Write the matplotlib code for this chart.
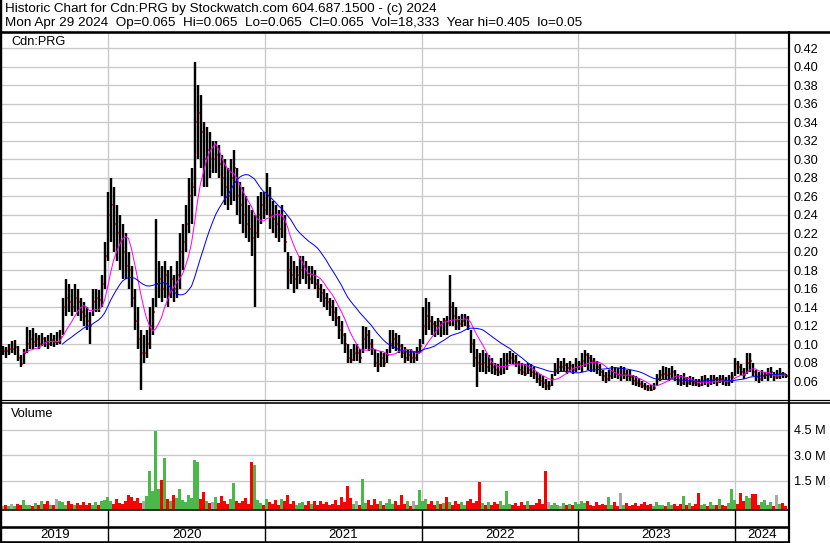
import numpy as np
import pandas as pd
import matplotlib
matplotlib.use('Agg')
import matplotlib.pyplot as plt
import matplotlib.dates as mdates
from matplotlib.lines import Line2D

# ---------------- data (weekly) ----------------
dates = pd.date_range('2019-04-29', periods=262, freq='7D')

low = [
.088,.085,.088,.090,.088,.082,.075,.078,.090,.095,
.095,.097,.095,.098,.097,.095,.098,.097,.099,.100,
.110,.130,.135,.130,.135,.130,.125,.120,.115,.100,
.130,.135,.135,.140,.160,.190,.210,.200,.190,.180,
.170,.170,.160,.140,.115,.095,.050,.080,.085,.095,
.110,.140,.150,.145,.150,.140,.150,.145,.150,.160,
.180,.200,.220,.230,.260,.300,.290,.270,.270,.280,
.285,.285,.280,.260,.250,.245,.250,.255,.240,.230,
.220,.215,.210,.195,.140,.215,.230,.235,.240,.225,
.220,.215,.210,.215,.200,.160,.165,.155,.160,.165,
.170,.165,.160,.165,.160,.150,.145,.140,.137,.130,
.125,.120,.105,.100,.090,.080,.080,.082,.082,.080,
.090,.095,.092,.088,.075,.070,.075,.075,.080,.090,
.095,.092,.090,.085,.080,.082,.080,.080,.082,.090,
.100,.110,.115,.110,.108,.110,.108,.110,.110,.120,
.120,.115,.115,.118,.120,.115,.090,.075,.054,.070,
.070,.068,.070,.068,.066,.065,.066,.068,.072,.078,
.078,.075,.068,.066,.065,.068,.064,.062,.058,.055,
.052,.050,.050,.055,.065,.068,.070,.070,.068,.070,
.068,.070,.072,.070,.075,.072,.070,.070,.068,.065,
.060,.058,.060,.062,.063,.062,.060,.062,.060,.060,
.056,.055,.054,.052,.050,.049,.049,.050,.055,.060,
.062,.062,.060,.062,.060,.056,.055,.056,.054,.056,
.055,.055,.053,.055,.056,.054,.056,.057,.055,.058,
.056,.055,.055,.058,.065,.068,.066,.062,.068,.070,
.065,.060,.058,.060,.062,.060,.063,.060,.062,.062,.063,.063]

high = [
.098,.097,.100,.103,.104,.098,.088,.095,.118,.115,
.117,.112,.110,.112,.108,.110,.112,.110,.113,.115,
.150,.170,.165,.160,.165,.160,.150,.145,.140,.135,
.160,.160,.158,.175,.210,.265,.280,.270,.250,.240,
.230,.220,.200,.185,.160,.140,.115,.110,.115,.140,
.150,.235,.190,.185,.190,.180,.185,.175,.190,.220,
.230,.250,.280,.290,.405,.380,.370,.340,.335,.330,
.320,.320,.315,.305,.300,.290,.300,.310,.290,.275,
.270,.260,.250,.245,.240,.260,.265,.265,.285,.270,
.255,.250,.245,.250,.240,.200,.195,.190,.185,.195,
.195,.190,.185,.185,.180,.170,.165,.160,.155,.150,
.148,.140,.130,.125,.112,.100,.095,.100,.100,.095,
.120,.118,.115,.105,.095,.090,.092,.090,.095,.115,
.115,.112,.110,.100,.097,.095,.095,.092,.097,.105,
.140,.150,.145,.130,.125,.128,.125,.128,.130,.175,
.145,.140,.130,.132,.133,.130,.115,.105,.095,.090,
.094,.090,.088,.085,.080,.078,.085,.090,.090,.092,
.090,.088,.082,.080,.078,.080,.078,.075,.070,.068,
.065,.062,.060,.068,.080,.085,.082,.085,.080,.082,
.078,.085,.082,.090,.094,.090,.088,.085,.082,.078,
.072,.070,.072,.076,.075,.074,.076,.075,.072,.072,
.066,.065,.063,.060,.058,.056,.056,.058,.068,.072,
.076,.075,.074,.076,.072,.068,.066,.069,.064,.065,
.064,.062,.062,.065,.066,.063,.066,.067,.064,.066,
.066,.064,.067,.070,.085,.082,.078,.074,.090,.090,
.080,.072,.070,.072,.070,.074,.075,.070,.072,.074,.070,.068]

close = [
.093,.092,.095,.095,.097,.085,.078,.090,.100,.105,
.102,.105,.100,.105,.102,.100,.104,.102,.102,.108,
.140,.150,.145,.140,.150,.145,.135,.130,.125,.120,
.145,.150,.148,.165,.195,.240,.250,.230,.220,.210,
.200,.185,.180,.150,.125,.105,.090,.090,.100,.120,
.135,.165,.170,.160,.175,.155,.170,.160,.175,.200,
.210,.230,.260,.270,.340,.350,.330,.300,.310,.300,
.300,.305,.295,.280,.270,.260,.280,.290,.260,.250,
.240,.230,.225,.215,.220,.240,.250,.245,.260,.240,
.235,.230,.225,.235,.210,.180,.175,.170,.175,.180,
.185,.175,.170,.175,.165,.160,.155,.150,.145,.140,
.135,.128,.115,.110,.100,.085,.083,.090,.090,.085,
.105,.110,.100,.095,.080,.078,.085,.080,.088,.100,
.105,.100,.098,.090,.085,.088,.085,.085,.090,.098,
.120,.130,.125,.122,.120,.125,.122,.125,.123,.140,
.130,.125,.122,.125,.128,.120,.100,.085,.080,.078,
.080,.075,.078,.075,.072,.070,.075,.080,.082,.085,
.082,.080,.072,.070,.068,.072,.070,.068,.062,.060,
.058,.055,.055,.062,.072,.075,.075,.077,.074,.076,
.072,.075,.078,.082,.088,.085,.082,.080,.075,.070,
.065,.062,.065,.070,.068,.066,.066,.068,.065,.064,
.060,.058,.057,.055,.053,.052,.050,.052,.062,.066,
.068,.066,.068,.070,.064,.060,.058,.062,.058,.060,
.058,.057,.056,.060,.061,.058,.060,.062,.059,.062,
.060,.058,.060,.064,.078,.075,.070,.066,.080,.082,
.070,.064,.062,.065,.066,.068,.070,.064,.064,.068,.066,.065]

volume_m = [
.04,.08,.03,.12,.05,.15,.06,.40,.10,.08,
.05,.20,.08,.30,.12,.30,.06,.10,.45,.30,
.25,.10,.30,.12,.06,.20,.08,.25,.10,.18,
.10,.25,.08,.30,.40,.55,.35,.15,.45,.20,
.12,.35,.65,.55,.30,.50,.20,.35,.60,2.10,
.90,4.40,1.00,1.55,2.85,.45,.30,.70,.50,1.00,
.40,.25,.70,.50,2.70,2.60,.45,.85,.30,.20,
.25,.55,.20,.60,.30,.15,.45,1.35,.35,.20,
.30,.50,.15,2.60,2.40,.40,.20,.10,.45,.25,
.15,.40,.10,.45,.30,.65,.15,.30,.08,.20,
.25,.10,.35,.15,.30,.08,.35,.12,.25,.10,
.15,.40,.10,.55,.25,1.20,.50,.15,.35,.10,
1.60,.20,.40,.10,.45,.15,.30,.08,.20,.45,
.12,.30,.08,.70,.15,.30,.05,.30,.10,.95,
.30,.45,.15,.35,.10,.35,.12,.20,.55,.25,
.10,.35,.15,.25,.08,.35,.45,.20,.35,1.45,
.20,.10,.25,.08,.25,.12,.30,.06,.90,.15,
.10,.20,.05,.25,.08,.30,.10,.06,.20,.45,
.15,2.05,.25,.06,.20,.10,.05,.20,.08,.15,
.08,.25,.12,.35,.20,.30,.10,.05,.25,.10,
.15,.06,.55,.10,.25,.05,.80,.10,.20,.05,
.08,.20,.05,.12,.25,.06,.15,.05,.25,.10,
.10,.05,.25,.08,.15,.04,.15,.60,.06,.20,
.05,.12,.80,.06,.15,.04,.25,.08,.10,.45,
.10,.05,.20,1.00,.40,.12,.80,.35,.60,.50,
.75,.75,.10,.25,.40,.08,.25,.05,.65,.15,.20,.05]

price_ticks = [0.06, 0.08, 0.10, 0.12, 0.14, 0.16, 0.18, 0.20, 0.22, 0.24,
               0.26, 0.28, 0.30, 0.32, 0.34, 0.36, 0.38, 0.40, 0.42]
vol_ticks = [1.5, 3.0, 4.5]
vol_tick_labels = ['1.5 M', '3.0 M', '4.5 M']
year_labels = ['2019', '2020', '2021', '2022', '2023', '2024']
year_starts = ['2020-01-01', '2021-01-01', '2022-01-01', '2023-01-01', '2024-01-01']
title1 = 'Historic Chart for Cdn:PRG by Stockwatch.com 604.687.1500 - (c) 2024'
title2 = ('Mon Apr 29 2024  Op=0.065  Hi=0.065  Lo=0.065  Cl=0.065  '
          'Vol=18,333  Year hi=0.405  lo=0.05')
symbol = 'Cdn:PRG'
ma_short, ma_long = 8, 21

# ---------------- layout ----------------
FONT = 'Liberation Sans'
W, H = 830, 543
fig = plt.figure(figsize=(W / 100, H / 100), dpi=100)
fig.patch.set_facecolor('white')


def rect(x0, y0, x1, y1):
    return [x0 / W, 1 - y1 / H, (x1 - x0) / W, (y1 - y0) / H]


def fline(xs, ys, lw_px, color='black'):
    fig.add_artist(Line2D([x / W for x in xs], [1 - y / H for y in ys],
                          transform=fig.transFigure, lw=lw_px * 0.72,
                          color=color, solid_capstyle='butt'))


px_per_day = 3 / 7.0
x_left_px, x_right_px = 2, 789
start_num = mdates.date2num(dates[0])
xmin = start_num - (2.5 - x_left_px) / px_per_day
xmax = xmin + (x_right_px - x_left_px) / px_per_day
ynums = [mdates.date2num(pd.Timestamp(d)) for d in year_starts]

GRID = '#c8c8c8'
TOP = 33

# price panel
price_px_per_unit = 18.48 / 0.02
ax = fig.add_axes(rect(2, TOP, 789, 400))
ax.set_xlim(xmin, xmax)
ax.set_ylim(0.06 - (400 - 381) / price_px_per_unit, 0.06 + (381 - TOP) / price_px_per_unit)
for s in ax.spines.values():
    s.set_visible(False)
ax.set_yticks(price_ticks)
ax.set_yticklabels(['%.2f' % t for t in price_ticks])
ax.yaxis.tick_right()
ax.tick_params(axis='y', length=0, pad=5 * 0.72, labelsize=9.2, labelcolor='black')
ax.set_xticks(ynums)
ax.tick_params(axis='x', length=0, labelbottom=False)
for t in ax.get_yticklabels():
    t.set_fontfamily(FONT)
ax.grid(True, color=GRID, lw=1.3 * 0.72)
ax.set_axisbelow(True)

xd = mdates.date2num(dates)
close_arr = np.array(close)
ax.vlines(xd, low, high, color='black', lw=2.4 * 0.72, zorder=3)
ax.hlines(close_arr, xd + 2.4, xd + 5.6, color='#ff0000', lw=1.7 * 0.72, zorder=4)
ma1 = pd.Series(close_arr).rolling(ma_short).mean()
ma2 = pd.Series(close_arr).rolling(ma_long).mean()
ax.plot(xd, ma1, color='#ff00ff', lw=1.0 * 0.72, zorder=5)
ax.plot(xd, ma2, color='#0000ff', lw=1.0 * 0.72, zorder=5)
ax.text(9 / 787, 1 - (42 - TOP) / (400 - TOP), symbol, transform=ax.transAxes,
        fontsize=9.2, family=FONT, va='center', ha='left')

# volume panel
vol_px_per_m = 25.65 / 1.5
vax = fig.add_axes(rect(2, 402, 789, 509))
vax.set_xlim(xmin, xmax)
vbottom = -(509 - 506.5) / vol_px_per_m
vtop = (506.5 - 402) / vol_px_per_m
vax.set_ylim(vbottom, vtop)
for s in vax.spines.values():
    s.set_visible(False)
vax.set_yticks(vol_ticks)
vax.set_yticklabels(vol_tick_labels)
vax.yaxis.tick_right()
vax.tick_params(axis='y', length=0, pad=5 * 0.72, labelsize=9.2)
for t in vax.get_yticklabels():
    t.set_fontfamily(FONT)
vax.set_xticks(ynums)
vax.tick_params(axis='x', length=0, labelbottom=False)
vax.grid(True, color=GRID, lw=1.3 * 0.72)
vax.set_axisbelow(True)
colors = []
for i, c in enumerate(close):
    if i == 0 or c == close[i - 1]:
        colors.append('#a8a8a8')
    elif c > close[i - 1]:
        colors.append('#4cb84c')
    else:
        colors.append('#ff0000')
vol = np.array(volume_m)
vax.bar(xd, vol - vbottom, bottom=vbottom, width=4.7, color=colors, linewidth=0,
        align='center', zorder=3, antialiased=False)
vax.text(9 / 787, 1 - (414 - 402) / 107, 'Volume', transform=vax.transAxes,
         fontsize=9.2, family=FONT, va='center', ha='left')

# date strip
sax = fig.add_axes(rect(2, 527, 789, 541))
sax.set_xlim(xmin, xmax)
sax.set_ylim(0, 1)
sax.axis('off')
bounds = [xmin] + ynums + [xmax]
for k, lab in enumerate(year_labels):
    sax.text((bounds[k] + bounds[k + 1]) / 2, 0.45, lab, ha='center', va='center',
             fontsize=9.5, family=FONT)

# frame lines
fline([0, 830], [31.7, 31.7], 2.6)
fline([1, 1], [0, 543], 2.4)
fline([788.5, 788.5], [31, 543], 2.2)
fline([0, 830], [400.3, 400.3], 1.2)
fline([0, 830], [402.6, 402.6], 1.6)
fline([0, 789], [509.6, 509.6], 1.6)
fline([0, 789], [526.6, 526.6], 2.6)
fline([0, 789], [541.8, 541.8], 2.6)
for yn in ynums:
    xp = x_left_px + (yn - xmin) * px_per_day
    fline([xp, xp], [509.6, 541.8], 1.4)

# title
t1 = fig.text(5 / W, 1 - 12.3 / H, title1, fontsize=8, family=FONT, va='baseline')
t2 = fig.text(5 / W, 1 - 26.3 / H, title2, fontsize=8, family=FONT, va='baseline')
fig.canvas.draw()
w2 = t2.get_window_extent().width
scale = 575.0 / w2
t1.set_fontsize(8 * scale)
t2.set_fontsize(8 * scale)

fig.savefig('out.png', dpi=100)
